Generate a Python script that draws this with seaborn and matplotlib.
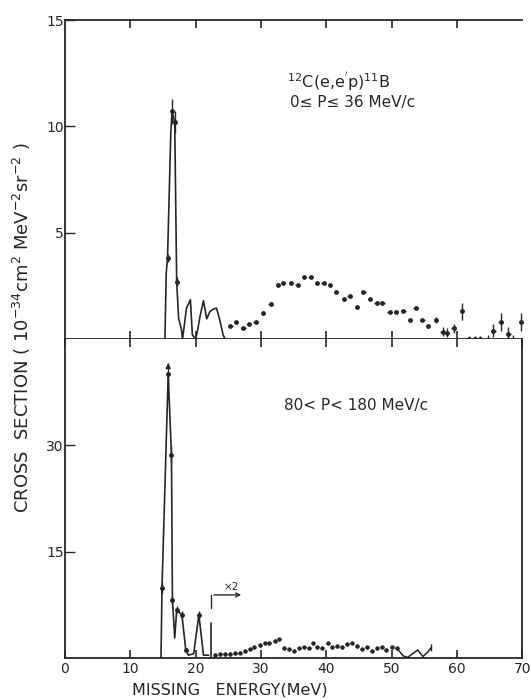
import matplotlib
matplotlib.use("Agg")
import matplotlib.pyplot as plt
import seaborn as sns
import numpy as np
import pandas as pd

# ---------------- data ----------------
# top panel: 0 < P < 36 MeV/c
top_line_E = [15.3, 15.5, 15.7, 16.2, 16.4, 16.8, 17.1, 17.4, 17.8, 18.0, 18.6, 19.2, 19.5,
              20.0, 20.3, 20.7, 21.2, 21.7, 22.2, 22.7, 23.2, 23.7, 24.2, 24.5]
top_line_S = [0.0, 3.1, 3.8, 9.7, 10.7, 10.2, 2.7, 0.95, 0.5, 0.0, 1.45, 1.85, 0.2,
              0.0, 0.4, 1.1, 1.8, 0.95, 1.3, 1.4, 1.45, 0.9, 0.2, 0.0]
top_pts_E = [15.7, 16.4, 16.8, 17.1]
top_pts_S = [3.8, 10.7, 10.2, 2.7]
top_pts_err = [0.2, 0.6, 0.5, 0.2]

top_dot_E = [25.3, 26.2, 27.3, 28.2, 29.2, 30.3, 31.5, 32.6, 33.4, 34.6,
             35.6, 36.6, 37.6, 38.6, 39.6, 40.6, 41.5, 42.7, 43.6, 44.7,
             45.7, 46.7, 47.7, 48.6, 49.7, 50.7, 51.8, 52.8, 53.7, 54.7,
             55.6, 56.8, 57.8, 58.5, 59.5, 60.8, 61.8, 62.7, 63.5, 64.7,
             65.6, 66.7, 67.9, 68.6, 69.8]
top_dot_S = [0.6, 0.8, 0.5, 0.7, 0.8, 1.2, 1.65, 2.55, 2.65, 2.65,
             2.55, 2.9, 2.9, 2.65, 2.65, 2.55, 2.2, 1.9, 2.0, 1.5,
             2.2, 1.9, 1.7, 1.7, 1.25, 1.25, 1.3, 0.9, 1.45, 0.9,
             0.6, 0.9, 0.35, 0.3, 0.5, 1.3, 0.0, 0.0, 0.0, -0.1,
             0.4, 0.8, 0.25, -0.1, 0.8]
top_dot_err = [0.05] * 30 + [0.1, 0.15, 0.2, 0.2, 0.2, 0.4, 0.15, 0.15, 0.15, 0.3,
                             0.3, 0.4, 0.3, 0.3, 0.4]

# bottom panel: 80 < P < 180 MeV/c
bot_line_E = [14.7, 14.85, 15.8, 16.3, 16.45, 16.8, 17.1, 17.9, 18.5, 18.9, 19.7, 20.5, 21.2, 22.0]
bot_line_S = [0.0, 9.9, 40.0, 28.7, 8.2, 2.8, 6.8, 6.1, 1.1, 0.4, 0.6, 6.1, 0.4, 0.4]
bot_pts_E = [14.85, 15.8, 16.3, 16.45, 17.1, 17.9, 18.5, 20.5]
bot_pts_S = [9.9, 40.0, 28.7, 8.2, 6.8, 6.1, 1.1, 6.1]
bot_pts_err = [0.8, 1.6, 1.2, 0.6, 0.5, 0.5, 0.3, 0.5]

bot_dot_E = [23.0, 23.7, 24.5, 25.3, 26.0, 26.8, 27.5, 28.3, 29.0, 29.8,
             30.6, 31.3, 32.1, 32.8, 33.6, 34.3, 35.1, 35.9, 36.6, 37.4,
             37.9, 38.6, 39.4, 40.2, 40.9, 41.7, 42.4, 43.2, 43.9, 44.7,
             45.5, 46.2, 47.0, 47.7, 48.5, 49.2, 50.0, 50.8]
bot_dot_S = [0.42, 0.5, 0.5, 0.56, 0.66, 0.75, 1.03, 1.2, 1.5, 1.83,
             2.07, 2.07, 2.44, 2.63, 1.36, 1.2, 1.03, 1.36, 1.5, 1.36,
             2.07, 1.5, 1.36, 2.07, 1.5, 1.69, 1.5, 1.97, 2.07, 1.69,
             1.2, 1.5, 1.03, 1.36, 1.5, 1.13, 1.5, 1.36]
bot_tail_E = [50.8, 51.8, 52.5, 53.3, 54.0, 54.8, 55.6, 56.1]
bot_tail_S = [1.36, 0.28, 0.1, 0.66, 1.13, 0.2, 0.9, 1.5]

x_ticks = [0, 10, 20, 30, 40, 50, 60, 70]
top_yticks = [5, 10, 15]
bot_yticks = [15, 30]

# annotation: x2 scale change marker
scale_E = 22.4
scale_line_top = 4.9
bracket_S = 8.9
bracket_end_E = 27.4

# ---------------- style ----------------
sns.set_style("ticks")
plt.rcParams['font.family'] = ['DejaVu Sans']
INK = '#262626'

fig = plt.figure(figsize=(5.31, 7.0), dpi=100)
L, W, H = 0.1224, 0.861, 0.4557
ax1 = fig.add_axes([L, 0.5157, W, H])
ax2 = fig.add_axes([L, 0.0600, W, H])

for ax in (ax1, ax2):
    ax.set_xlim(0, 70)
    for s in ax.spines.values():
        s.set_color(INK)
        s.set_linewidth(1.3)

# ---- top panel ----
ax1.set_ylim(0, 15)
df_tl = pd.DataFrame({"E": top_line_E, "S": top_line_S})
sns.lineplot(data=df_tl, x="E", y="S", ax=ax1, color=INK, lw=1.2, sort=False, estimator=None)
ax1.errorbar(top_pts_E, top_pts_S, yerr=top_pts_err, fmt='o', ms=2.5, color=INK,
             elinewidth=1.0, capsize=0)
df_td = pd.DataFrame({"E": top_dot_E, "S": top_dot_S})
ax1.errorbar(top_dot_E, top_dot_S, xerr=0.35, yerr=top_dot_err, fmt='none',
             ecolor=INK, elinewidth=1.0, capsize=0, clip_on=False)
sns.scatterplot(data=df_td, x="E", y="S", ax=ax1, color=INK, s=12, edgecolor=INK,
                linewidth=0, clip_on=False, zorder=3)

ax1.set_xticks([10, 20, 30, 40, 50, 60])
ax1.set_xticklabels([])
ax1.tick_params(axis='x', which='both', bottom=True, top=True, direction='in',
                length=6, width=1.2, color=INK)
ax1.set_yticks(top_yticks)
ax1.set_yticklabels([str(v) for v in top_yticks])
ax1.tick_params(axis='y', direction='in', length=7, width=1.0, color=INK, pad=1,
                labelsize=10, labelcolor=INK)
ax1.spines['right'].set_visible(False)
ax1.set_xlabel("")
ax1.set_ylabel("")
ax1.text(34.0, 12.1, r"$^{12}$C(e,e$^{'}$p)$^{11}$B", fontsize=11.5, color=INK, va='center')
ax1.text(34.5, 11.1, "0≤ P≤ 36 MeV/c", fontsize=11, color=INK, va='center')

# ---- bottom panel ----
ax2.set_ylim(0, 45)
df_bl = pd.DataFrame({"E": bot_line_E, "S": bot_line_S})
sns.lineplot(data=df_bl, x="E", y="S", ax=ax2, color=INK, lw=1.2, sort=False, estimator=None)
ax2.errorbar(bot_pts_E, bot_pts_S, yerr=bot_pts_err, fmt='o', ms=2.5, color=INK,
             elinewidth=1.0, capsize=0)
ax2.annotate("", xy=(15.8, 42.0), xytext=(15.8, 40.5),
             arrowprops=dict(arrowstyle='-|>', color=INK, lw=1.0, mutation_scale=7))
df_bd = pd.DataFrame({"E": bot_dot_E, "S": bot_dot_S})
ax2.errorbar(bot_dot_E, bot_dot_S, xerr=0.3, yerr=0.25, fmt='none',
             ecolor=INK, elinewidth=0.9, capsize=0)
sns.scatterplot(data=df_bd, x="E", y="S", ax=ax2, color=INK, s=10, edgecolor=INK, linewidth=0)
df_bt = pd.DataFrame({"E": bot_tail_E, "S": bot_tail_S})
sns.lineplot(data=df_bt, x="E", y="S", ax=ax2, color=INK, lw=1.1, sort=False, estimator=None)
ax2.errorbar(bot_tail_E[-1:], bot_tail_S[-1:], yerr=0.5, fmt='none', ecolor=INK,
             elinewidth=1.0)

# x2 marker
ax2.plot([scale_E, scale_E], [0, scale_line_top], color=INK, lw=1.2)
ax2.plot([scale_E, scale_E], [bracket_S - 1.8, bracket_S], color=INK, lw=1.0)
ax2.annotate("", xy=(bracket_end_E, bracket_S), xytext=(scale_E, bracket_S),
             arrowprops=dict(arrowstyle='->', color=INK, lw=1.0, mutation_scale=7))
ax2.text(24.3, bracket_S + 0.7, "×2", fontsize=7.5, color=INK)

ax2.set_xticks(x_ticks)
ax2.set_xticklabels([str(v) for v in x_ticks])
ax2.tick_params(axis='x', which='both', bottom=True, top=True, labeltop=False,
                direction='in', length=6, width=1.2, color=INK, pad=3,
                labelsize=10, labelcolor=INK)
ax2.set_yticks(bot_yticks)
ax2.set_yticklabels([str(v) for v in bot_yticks])
ax2.tick_params(axis='y', direction='in', length=7, width=1.0, color=INK, pad=1,
                labelsize=10, labelcolor=INK)
ax2.spines['top'].set_visible(False)
ax2.set_xlabel("")
ax2.set_ylabel("")
ax2.text(33.5, 35.6, "80< P< 180 MeV/c", fontsize=11, color=INK, va='center')

fig.text(230 / 531, 1 - 690 / 700, "MISSING   ENERGY(MeV)", ha='center', va='center',
         fontsize=11.5, color=INK)
fig.text(22 / 531, 1 - 328 / 700,
         r"CROSS  SECTION ( 10$^{-34}$cm$^{2}$ MeV$^{-2}$sr$^{-2}$ )",
         rotation=90, ha='center', va='center', fontsize=13, color=INK)

fig.savefig("out.png", dpi=100)
